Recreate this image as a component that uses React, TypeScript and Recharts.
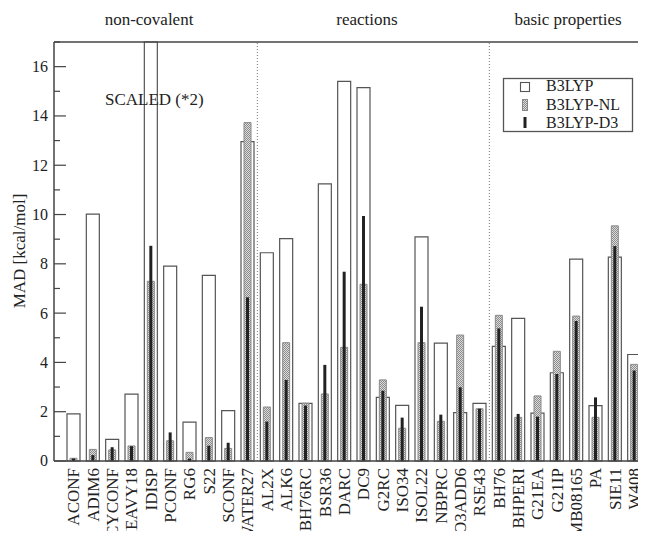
import React from 'react';
import {
  BarChart, Bar, XAxis, YAxis, ReferenceLine, Legend,
} from 'recharts';

// benchmark sets (x axis)
const categories = [
  'ACONF', 'ADIM6', 'CYCONF', 'HEAVY18', 'IDISP', 'PCONF', 'RG6', 'S22', 'SCONF', 'WATER27',
  'AL2X', 'ALK6', 'BH76RC', 'BSR36', 'DARC', 'DC9', 'G2RC', 'ISO34', 'ISOL22', 'NBPRC', 'O3ADD6', 'RSE43',
  'BH76', 'BHPERI', 'G21EA', 'G21IP', 'MB08165', 'PA', 'SIE11', 'W408',
];

// MAD in kcal/mol
const b3lyp = [
  1.91, 10.02, 0.88, 2.71, 17.0, 7.91, 1.58, 7.53, 2.04, 12.96,
  8.45, 9.02, 2.34, 11.24, 15.40, 15.15, 2.58, 2.26, 9.09, 4.78, 1.96, 2.34,
  4.65, 5.79, 1.94, 3.58, 8.19, 2.25, 8.27, 4.32,
];
const b3lypNl = [
  0.11, 0.47, 0.45, 0.61, 7.29, 0.82, 0.35, 0.95, 0.51, 13.73,
  2.19, 4.80, 2.34, 2.72, 4.61, 7.17, 3.29, 1.33, 4.80, 1.61, 5.11, 2.12,
  5.91, 1.77, 2.64, 4.45, 5.88, 1.77, 9.54, 3.92,
];
const b3lypD3 = [
  0.10, 0.24, 0.56, 0.60, 8.73, 1.16, 0.10, 0.62, 0.74, 6.64,
  1.60, 3.29, 2.25, 3.90, 7.68, 9.94, 2.85, 1.76, 6.26, 1.88, 2.99, 2.12,
  5.38, 1.91, 1.80, 3.53, 5.68, 2.58, 8.72, 3.67,
];

const yTicks = [0, 1, 2, 3, 4, 5, 6, 7, 8, 9, 10, 11, 12, 13, 14, 15, 16, 17];
const groupLabels = ['non-covalent', 'reactions', 'basic properties'];
const groupStarts = ['AL2X', 'BH76'];

const data = categories.map((name, i) => ({
  name,
  b3lyp: b3lyp[i],
  nl: b3lypNl[i],
  d3: b3lypD3[i],
}));

const FONT = 'Liberation Serif, DejaVu Serif, serif';
const serif = { fontFamily: FONT };
const PLOT_LEFT = 54;
const PLOT_RIGHT = 654;
const AXIS = '#444';

const LeftTick = ({ y, payload }: any) => {
  const major = payload.value % 2 === 0;
  return (
    <g>
      <line x1={PLOT_LEFT} x2={PLOT_LEFT + (major ? 12 : 6)} y1={y} y2={y} stroke={AXIS} strokeWidth={1.2} />
      {major && payload.value < 17 && (
        <text x={48} y={y} dy="0.34em" textAnchor="end" fontSize={16} style={serif} fill="#222">
          {payload.value}
        </text>
      )}
    </g>
  );
};

const RightTick = ({ y, payload }: any) => {
  if (payload.value % 2 !== 0) return <g />;
  return <line x1={PLOT_RIGHT} x2={PLOT_RIGHT - 12} y1={y} y2={y} stroke={AXIS} strokeWidth={1.2} />;
};

const CategoryTick = ({ x, payload }: any) => (
  <text
    transform={`translate(${x}, 468) rotate(-90)`}
    dy="0.33em"
    textAnchor="end"
    fontSize={17}
    style={serif}
    fill="#222"
  >
    {payload.value}
  </text>
);

const LegendBox = () => {
  const rows = [
    { label: 'B3LYP', sym: <rect x={17.5} y={4.5} width={9} height={9} fill="#fff" stroke="#555" strokeWidth={1.1} /> },
    { label: 'B3LYP-NL', sym: <rect x={19.5} y={21.5} width={5} height={11} fill="url(#stipple)" stroke="#888" strokeWidth={1} /> },
    { label: 'B3LYP-D3', sym: <rect x={20.5} y={39} width={3} height={11} fill="#222" /> },
  ];
  return (
    <svg width={131} height={55} style={{ display: 'block', overflow: 'visible' }}>
      <rect x={0.5} y={0.5} width={129} height={53} fill="#fff" stroke="#555" strokeWidth={1.3} />
      {rows.map((r, i) => (
        <g key={r.label}>
          {r.sym}
          <text x={43} y={13 + i * 18.5} fontSize={16} style={serif} fill="#222">{r.label}</text>
        </g>
      ))}
    </svg>
  );
};

export default function App() {
  return (
    <div style={{ margin: -8, width: 646, height: 539, overflow: 'hidden', position: 'relative', background: '#fff', ...serif }}>
      <BarChart
        width={656}
        height={539}
        data={data}
        margin={{ top: 42, right: 0, bottom: 0, left: 0 }}
        style={serif}
      >
        <defs>
          <pattern id="stipple" width="2" height="2" patternUnits="userSpaceOnUse">
            <rect width="2" height="2" fill="#dcdcdc" />
            <rect width="1" height="1" fill="#8c8c8c" />
            <rect x="1" y="1" width="1" height="1" fill="#8c8c8c" />
          </pattern>
        </defs>
        <XAxis
          xAxisId="a"
          dataKey="name"
          interval={0}
          height={78}
          padding={{ left: 10, right: 10 }}
          tickLine={false}
          axisLine={{ stroke: AXIS, strokeWidth: 1.5 }}
          tick={<CategoryTick />}
        />
        <XAxis xAxisId="b" dataKey="name" hide padding={{ left: 10, right: 10 }} />
        <XAxis xAxisId="c" dataKey="name" hide padding={{ left: 10, right: 10 }} />
        <YAxis
          yAxisId="left"
          width={54}
          domain={[0, 17]}
          ticks={yTicks}
          interval={0}
          tickLine={false}
          axisLine={{ stroke: AXIS, strokeWidth: 1.5 }}
          tick={<LeftTick />}
        />
        <YAxis
          yAxisId="right"
          orientation="right"
          width={2}
          domain={[0, 17]}
          ticks={yTicks}
          interval={0}
          tickLine={false}
          axisLine={{ stroke: AXIS, strokeWidth: 1.5 }}
          tick={<RightTick />}
        />
        {groupStarts.map(g => (
          <ReferenceLine
            key={g}
            xAxisId="a"
            yAxisId="left"
            x={g}
            position="start"
            stroke="#777"
            strokeWidth={1}
            strokeDasharray="1 2"
          />
        ))}
        <ReferenceLine xAxisId="a" yAxisId="left" y={17} stroke={AXIS} strokeWidth={1.5} />
        <Bar
          xAxisId="a"
          yAxisId="left"
          dataKey="b3lyp"
          name="B3LYP"
          barSize={13}
          fill="#fff"
          stroke="#555"
          strokeWidth={1.2}
          isAnimationActive={false}
        />
        <Bar
          xAxisId="b"
          yAxisId="left"
          dataKey="nl"
          name="B3LYP-NL"
          barSize={7}
          fill="url(#stipple)"
          stroke="#8a8a8a"
          strokeWidth={1}
          isAnimationActive={false}
        />
        <Bar
          xAxisId="c"
          yAxisId="left"
          dataKey="d3"
          name="B3LYP-D3"
          barSize={3}
          fill="#222"
          isAnimationActive={false}
        />
        <Legend
          layout="horizontal"
          align="center"
          verticalAlign="middle"
          content={<LegendBox />}
          wrapperStyle={{ left: 503, top: 78, width: 131, height: 55 }}
        />
      </BarChart>

      {/* headers, axis title and note */}
      <svg
        width={646}
        height={539}
        style={{ position: 'absolute', left: 0, top: 0, pointerEvents: 'none', ...serif }}
        fill="#222"
      >
        <text x={149} y={25} fontSize={17} textAnchor="middle">{groupLabels[0]}</text>
        <text x={367} y={25} fontSize={17} textAnchor="middle">{groupLabels[1]}</text>
        <text x={568} y={25} fontSize={17} textAnchor="middle">{groupLabels[2]}</text>
        <text transform="translate(25, 251) rotate(-90)" fontSize={17} textAnchor="middle">MAD [kcal/mol]</text>
        <text x={105} y={105} fontSize={17}>SCALED (*2)</text>
      </svg>
    </div>
  );
}
